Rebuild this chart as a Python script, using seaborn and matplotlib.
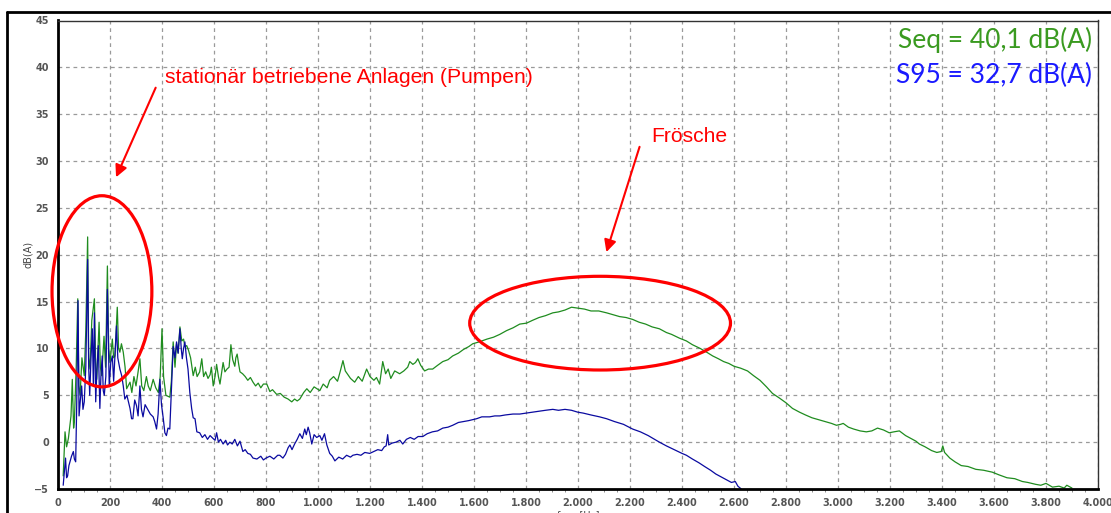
import numpy as np
import pandas as pd
import matplotlib.pyplot as plt
import seaborn as sns
from matplotlib.patches import Ellipse
from matplotlib.lines import Line2D
from matplotlib.ticker import MultipleLocator

# Seq spectrum (green)
seq_freq = [20, 27, 33, 40, 50, 55, 60, 63, 70, 76,
            80, 85, 92, 101, 107, 114, 118, 123, 130, 140,
            145, 149, 158, 163, 168, 177, 183, 190, 195, 200,
            209, 214, 219, 228, 233, 238, 244, 251, 258, 264,
            277, 284, 292, 300, 308, 315, 322, 330, 340, 347,
            355, 366, 376, 386, 393, 400, 406, 415, 430, 436,
            443, 450, 456, 462, 469, 476, 483, 488, 495, 502,
            510, 520, 528, 535, 545, 553, 560, 568, 577, 585,
            590, 597, 604, 610, 617, 623, 630, 635, 642, 650,
            658, 665, 672, 680, 684, 689, 695, 700, 710, 720,
            730, 740, 750, 760, 770, 780, 790, 803, 815, 825,
            841, 855, 870, 885, 899, 910, 920, 930, 945, 957,
            970, 985, 1007, 1020, 1035, 1045, 1060, 1075, 1085, 1096,
            1105, 1115, 1125, 1141, 1155, 1170, 1187, 1200, 1215, 1225,
            1237, 1249, 1260, 1270, 1280, 1295, 1314, 1330, 1345, 1353,
            1365, 1375, 1384, 1395, 1410, 1425, 1441, 1460, 1480, 1500,
            1518, 1540, 1560, 1580, 1595, 1620, 1650, 1675, 1699, 1725,
            1750, 1776, 1802, 1825, 1850, 1875, 1903, 1925, 1950, 1975,
            1999, 2025, 2050, 2080, 2110, 2135, 2160, 2185, 2210, 2235,
            2260, 2285, 2313, 2340, 2360, 2390, 2417, 2440, 2470, 2495,
            2518, 2540, 2560, 2580, 2600, 2625, 2652, 2675, 2700, 2725,
            2748, 2775, 2800, 2825, 2852, 2875, 2900, 2925, 2950, 2975,
            2994, 3010, 3020, 3040, 3060, 3085, 3109, 3130, 3152, 3175,
            3197, 3215, 3236, 3260, 3280, 3300, 3313, 3335, 3360, 3380,
            3397, 3403, 3410, 3430, 3450, 3474, 3500, 3530, 3560, 3593,
            3620, 3650, 3680, 3709, 3730, 3760, 3780, 3800, 3825, 3850,
            3870, 3880, 3900]
seq_level = [-3.6, 1.1, -0.5, 0.4, 2.8, 6.7, 1.5, 2.2, 8.0, 15.3,
             6.0, 5.0, 9.0, 7.1, 12.0, 21.9, 9.0, 7.8, 13.0, 15.3,
             8.0, 6.7, 12.8, 8.0, 7.1, 11.3, 8.0, 18.8, 10.0, 8.5,
             11.0, 9.0, 9.2, 14.4, 10.0, 9.6, 10.5, 9.6, 8.0, 5.7,
             6.4, 5.3, 7.0, 6.0, 7.5, 8.9, 6.0, 5.5, 7.0, 6.0,
             5.5, 6.7, 5.8, 5.3, 7.0, 12.1, 7.0, 5.0, 4.8, 6.5,
             10.7, 8.0, 10.5, 9.5, 12.3, 10.8, 11.0, 10.2, 10.3, 9.8,
             9.0, 7.1, 8.0, 7.0, 7.5, 8.9, 7.0, 7.5, 6.8, 7.2,
             8.0, 6.0, 7.0, 8.3, 7.0, 6.2, 7.5, 8.5, 7.5, 7.8,
             8.0, 10.4, 8.8, 8.1, 9.0, 9.4, 8.3, 7.5, 7.3, 7.0,
             6.6, 6.9, 6.4, 6.0, 6.3, 5.8, 6.2, 6.2, 5.4, 5.6,
             5.1, 5.2, 4.8, 4.6, 4.3, 4.6, 4.4, 4.6, 5.3, 5.7,
             5.3, 5.9, 5.5, 6.2, 5.8, 6.6, 7.0, 6.5, 7.5, 8.7,
             7.6, 7.2, 6.8, 6.4, 7.0, 6.5, 7.8, 7.0, 6.6, 6.9,
             6.2, 8.6, 7.3, 7.8, 6.8, 7.6, 7.3, 7.6, 8.0, 8.6,
             8.3, 8.5, 8.9, 8.2, 7.6, 7.8, 7.8, 8.2, 8.6, 8.8,
             9.2, 9.5, 9.9, 10.2, 10.5, 10.7, 11.0, 11.2, 11.5, 11.9,
             12.2, 12.6, 12.7, 13.0, 13.3, 13.5, 13.8, 13.9, 14.1, 14.4,
             14.3, 14.2, 14.0, 14.0, 13.8, 13.6, 13.4, 13.3, 13.1, 12.8,
             12.6, 12.3, 12.1, 11.7, 11.5, 11.1, 10.8, 10.4, 10.0, 9.6,
             9.2, 8.9, 8.6, 8.4, 8.1, 7.9, 7.6, 7.1, 6.6, 5.9,
             5.2, 4.7, 4.2, 3.6, 3.2, 2.9, 2.6, 2.4, 2.2, 2.0,
             1.8, 1.9, 2.0, 1.6, 1.4, 1.2, 1.1, 1.2, 1.5, 1.3,
             1.0, 1.1, 1.2, 0.7, 0.4, 0.1, -0.2, -0.5, -0.9, -1.1,
             -1.0, -0.4, -1.1, -1.7, -2.1, -2.5, -2.6, -2.9, -3.0, -3.2,
             -3.5, -3.8, -3.9, -4.2, -4.3, -4.5, -4.6, -4.4, -4.8, -4.7,
             -4.9, -4.6, -4.9]

# S95 spectrum (blue)
s95_freq = [20, 25, 29, 33, 37, 42, 46, 52, 59, 63,
            68, 72, 77, 81, 86, 91, 96, 101, 107, 114,
            118, 122, 127, 132, 136, 140, 145, 150, 155, 161,
            165, 170, 174, 178, 184, 190, 197, 203, 209, 214,
            219, 225, 230, 238, 245, 251, 257, 265, 277, 283,
            288, 295, 302, 308, 315, 321, 327, 335, 347, 355,
            366, 372, 379, 385, 392, 398, 405, 411, 417, 423,
            430, 437, 443, 450, 456, 462, 469, 474, 478, 483,
            488, 494, 500, 507, 514, 520, 527, 534, 545, 555,
            565, 575, 585, 596, 604, 610, 617, 625, 635, 645,
            652, 661, 670, 680, 690, 700, 711, 720, 730, 740,
            750, 765, 780, 790, 800, 815, 830, 845, 853, 865,
            875, 885, 892, 900, 910, 920, 930, 940, 949, 955,
            962, 968, 976, 985, 995, 1007, 1015, 1025, 1034, 1045,
            1055, 1065, 1080, 1095, 1110, 1125, 1134, 1150, 1165, 1180,
            1199, 1215, 1230, 1245, 1255, 1262, 1268, 1272, 1285, 1300,
            1315, 1326, 1340, 1355, 1370, 1385, 1403, 1420, 1440, 1460,
            1480, 1500, 1518, 1540, 1560, 1580, 1610, 1630, 1660, 1680,
            1699, 1720, 1750, 1776, 1802, 1825, 1850, 1875, 1903, 1925,
            1950, 1975, 1999, 2020, 2050, 2083, 2110, 2140, 2175, 2210,
            2240, 2270, 2313, 2340, 2370, 2400, 2417, 2440, 2465, 2487,
            2510, 2530, 2550, 2570, 2590, 2605, 2615, 2628]
s95_level = [-4.6, -3.0, -1.7, -3.8, -3.6, -2.5, -2.1, -1.5, -1.0, -1.8,
             -2.1, 4.0, 15.1, 2.8, 4.5, 6.0, 3.5, 4.3, 8.0, 19.5,
             8.0, 5.0, 9.0, 12.1, 6.0, 13.8, 4.3, 8.0, 10.3, 3.6,
             7.0, 9.2, 5.5, 5.0, 7.0, 16.3, 6.0, 8.5, 9.2, 6.5,
             9.2, 12.4, 9.0, 7.8, 7.1, 6.0, 4.6, 5.0, 3.6, 2.5,
             2.5, 4.5, 3.9, 2.8, 6.0, 3.5, 2.7, 4.0, 3.4, 3.0,
             2.7, 2.2, 1.4, 3.0, 6.7, 4.0, 2.5, 1.0, 0.7, 1.5,
             1.4, 6.0, 10.2, 9.0, 10.7, 9.5, 12.1, 10.0, 8.9, 10.0,
             10.7, 9.0, 7.8, 5.3, 3.6, 2.6, 2.5, 1.1, 1.0, 0.5,
             0.8, 0.3, 0.7, 0.4, 0.2, 1.0, 0.0, 0.3, -0.2, 0.2,
             -0.3, 0.0, -0.2, 0.3, -0.4, 0.1, -1.0, -0.8, -1.2, -1.3,
             -1.7, -1.8, -1.5, -1.9, -1.7, -1.5, -1.8, -1.4, -1.4, -1.7,
             -1.3, -0.6, -0.3, -0.8, -0.2, 0.3, 0.9, 0.4, 1.4, 0.8,
             1.6, 1.0, -0.2, 0.8, 0.5, 0.7, 0.2, 0.9, -0.3, -1.2,
             -1.5, -2.0, -1.6, -1.8, -1.4, -1.6, -1.4, -1.3, -1.4, -1.1,
             -1.2, -1.0, -0.8, -0.9, -0.5, -0.4, 0.8, -0.3, -0.1, 0.0,
             0.2, -0.2, 0.3, 0.5, 0.3, 0.6, 0.6, 0.9, 1.1, 1.2,
             1.5, 1.6, 1.8, 2.1, 2.2, 2.3, 2.5, 2.7, 2.7, 2.8,
             2.8, 2.9, 3.0, 3.0, 3.1, 3.2, 3.3, 3.4, 3.5, 3.4,
             3.5, 3.4, 3.2, 3.1, 2.9, 2.7, 2.5, 2.2, 1.9, 1.4,
             1.1, 0.7, 0.0, -0.4, -0.8, -1.2, -1.4, -1.8, -2.2, -2.6,
             -3.0, -3.4, -3.7, -4.0, -4.3, -4.2, -4.7, -5.0]

x_ticks = [0, 200, 400, 600, 800, 1000, 1200, 1400, 1600, 1800, 2000,
           2200, 2400, 2600, 2800, 3000, 3200, 3400, 3600, 3800, 4000]
x_ticklabels = ['0', '200', '400', '600', '800', '1.000', '1.200', '1.400',
                '1.600', '1.800', '2.000', '2.200', '2.400', '2.600', '2.800',
                '3.000', '3.200', '3.400', '3.600', '3.800', '4.000']
y_ticks = [-5, 0, 5, 10, 15, 20, 25, 30, 35, 40, 45]

seq_df = pd.DataFrame({'freq': seq_freq, 'dB': seq_level})
s95_df = pd.DataFrame({'freq': s95_freq, 'dB': s95_level})

sns.set_style('white')
fig = plt.figure(figsize=(11.11, 5.13), dpi=100)
ax = fig.add_axes([58 / 1111, 24 / 513, 1040 / 1111, 468.5 / 513])

sns.lineplot(data=seq_df, x='freq', y='dB', ax=ax, color='#1f8c1f',
             linewidth=0.9, estimator=None, sort=False)
sns.lineplot(data=s95_df, x='freq', y='dB', ax=ax, color='#0a0aa0',
             linewidth=0.9, estimator=None, sort=False)

ax.set_xlim(0, 4000)
ax.set_ylim(-5, 45)
ax.set_xticks(x_ticks)
ax.set_xticklabels(x_ticklabels)
ax.set_yticks(y_ticks)
ax.xaxis.set_minor_locator(MultipleLocator(50))
ax.tick_params(axis='both', which='major', labelsize=7, labelcolor='#555555',
               length=3, width=0.8, color='#555555', direction='out')
ax.tick_params(axis='x', which='minor', length=2.5, width=0.6, color='#777777',
               direction='out', bottom=True)
for lab in ax.get_xticklabels() + ax.get_yticklabels():
    lab.set_fontweight('bold')
ax.grid(True, which='major', color='#9a9a9a', linestyle=(0, (3, 3)), linewidth=0.9)
ax.set_xlabel('freq [Hz]', fontsize=7, color='#444444', labelpad=2)
ax.set_ylabel('dB(A)', fontsize=7, color='#444444', labelpad=1)

for side in ['left', 'bottom']:
    ax.spines[side].set_linewidth(2)
    ax.spines[side].set_color('black')
for side in ['top', 'right']:
    ax.spines[side].set_linewidth(1)
    ax.spines[side].set_color('#333333')

# outer frame of the screenshot
fig.add_artist(Line2D([6.5 / 1111, 1.0], [1 - 12 / 513, 1 - 12 / 513],
                      transform=fig.transFigure, color='black', lw=2))
fig.add_artist(Line2D([6.5 / 1111, 6.5 / 1111], [0, 1 - 12 / 513],
                      transform=fig.transFigure, color='black', lw=2))

# red annotations
red = '#ff0000'
ax.add_patch(Ellipse((169, 16.1), 384, 20.4, fill=False, edgecolor=red,
                     linewidth=2.3, clip_on=False, zorder=5))
ax.add_patch(Ellipse((2085, 12.7), 1003, 10.0, fill=False, edgecolor=red,
                     linewidth=2.3, clip_on=False, zorder=5))
ax.annotate('', xy=(219, 28.0), xytext=(380, 38.1),
            arrowprops=dict(arrowstyle='-|>', color=red, lw=1.5, mutation_scale=18))
ax.annotate('', xy=(2106, 20.0), xytext=(2240, 31.8),
            arrowprops=dict(arrowstyle='-|>', color=red, lw=1.5, mutation_scale=18))
ax.text(411, 38.9, 'stationär betriebene Anlagen (Pumpen)', color=red,
        fontsize=15.2, family='Liberation Sans', va='center', ha='left')
ax.text(2283, 32.6, 'Frösche', color=red, fontsize=15.2,
        family='Liberation Sans', va='center', ha='left')

# level summary
fig.text(1092 / 1111, 1 - 40 / 513, 'Seq = 40,1 dB(A)', color='#3a9a20',
         fontsize=19, family='Lato', ha='right', va='center')
fig.text(1092 / 1111, 1 - 75 / 513, 'S95 = 32,7 dB(A)', color='#1a1aff',
         fontsize=19, family='Lato', ha='right', va='center')

fig.savefig('out.png', dpi=100)
